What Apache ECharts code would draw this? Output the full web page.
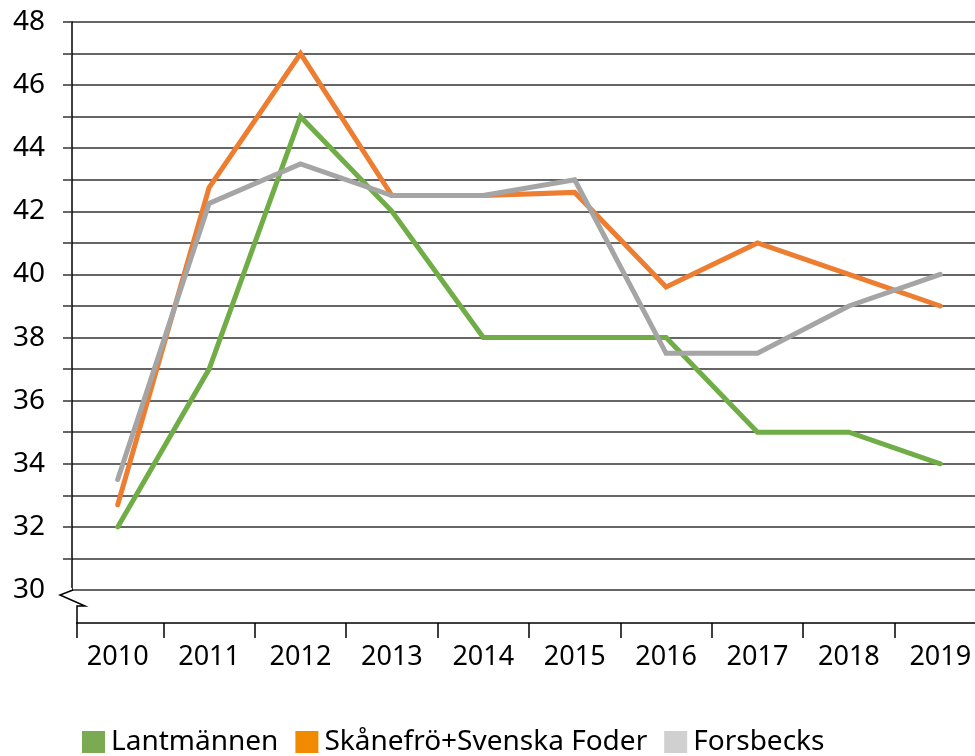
<!DOCTYPE html>
<html>
<head>
<meta charset="utf-8">
<script src="https://cdn.jsdelivr.net/npm/echarts@6/dist/echarts.min.js"></script>
<style>
    html, body { margin: 0; padding: 0; background: #fff; overflow: hidden; }
    #chart { width: 975px; height: 800px; }
</style>
</head>
<body>
<div id="chart"></div>
<script>
const years = ["2010", "2011", "2012", "2013", "2014", "2015", "2016", "2017", "2018", "2019"];
const lantmannen = [32, 37, 45, 42, 38, 38, 38, 35, 35, 34];
const skanefro = [32.7, 42.75, 47, 42.5, 42.5, 42.6, 39.6, 41, 40, 39];
const forsbecks = [33.5, 42.25, 43.5, 42.5, 42.5, 43, 37.5, 37.5, 39, 40];
const seriesNames = ["Lantmännen", "Skånefrö+Svenska Foder", "Forsbecks"];

const font = "'Noto Sans', sans-serif";
const gl = 72, gt = 22, gb = 590;

const line = (name, data, color, legendColor) => ({
    name: name,
    type: "line",
    data: data,
    symbol: "none",
    itemStyle: { color: legendColor },
    lineStyle: { color: color, width: 5, cap: "round", join: "miter" },
});

const chart = echarts.init(document.querySelector("#chart"));
chart.setOption({
    animation: false,
    textStyle: { fontFamily: font },
    grid: { left: gl, top: gt, height: gb - gt, width: 914, outerBoundsMode: "none" },
    legend: {
        left: 82,
        top: 728,
        padding: 0,
        itemWidth: 23,
        itemHeight: 22,
        itemGap: 17,
        icon: "rect",
        textStyle: { fontSize: 28, lineHeight: 22, color: "#000", fontFamily: font, padding: [0, 0, 0, 1] },
        data: seriesNames,
    },
    xAxis: {
        type: "category",
        data: years,
        offset: 33,
        axisLine: { show: true, onZero: false, lineStyle: { color: "#000", width: 1.5 } },
        axisTick: { show: true, length: 15, lineStyle: { color: "#000", width: 1.5 } },
        axisLabel: { fontSize: 27, color: "#000", margin: 21 },
    },
    yAxis: {
        type: "value",
        min: 30,
        max: 48,
        interval: 1,
        axisLine: { show: true, lineStyle: { color: "#000", width: 1.5 } },
        axisTick: { show: true, length: 9, lineStyle: { color: "#333", width: 1.5 } },
        splitLine: { lineStyle: { color: "#333", width: 1.5 } },
        axisLabel: {
            fontSize: 28,
            color: "#000",
            margin: 27,
            formatter: (v) => (v % 2 === 0 ? String(v) : ""),
        },
    },
    series: [
        line(seriesNames[0], lantmannen, "#70ad47", "#7aab52"),
        line(seriesNames[1], skanefro, "#ed7d31", "#f08a00"),
        line(seriesNames[2], forsbecks, "#a5a5a5", "#d0d0d0"),
    ],
    graphic: [
        { type: "rect", shape: { x: 58, y: 588, width: 14, height: 5 }, style: { fill: "#fff" }, z: 100 },
        { type: "rect", shape: { x: 64, y: 618, width: 12, height: 24 }, style: { fill: "#fff" }, z: 100 },
        {
            type: "polyline",
            shape: { points: [[gl + 1, gb], [gl - 12, gb + 5], [gl + 13, gb + 16], [gl + 5, gb + 16], [gl + 5, gb + 48]] },
            style: { stroke: "#000", lineWidth: 1.5, fill: null },
            z: 101,
        },
    ],
});
</script>
</body>
</html>
